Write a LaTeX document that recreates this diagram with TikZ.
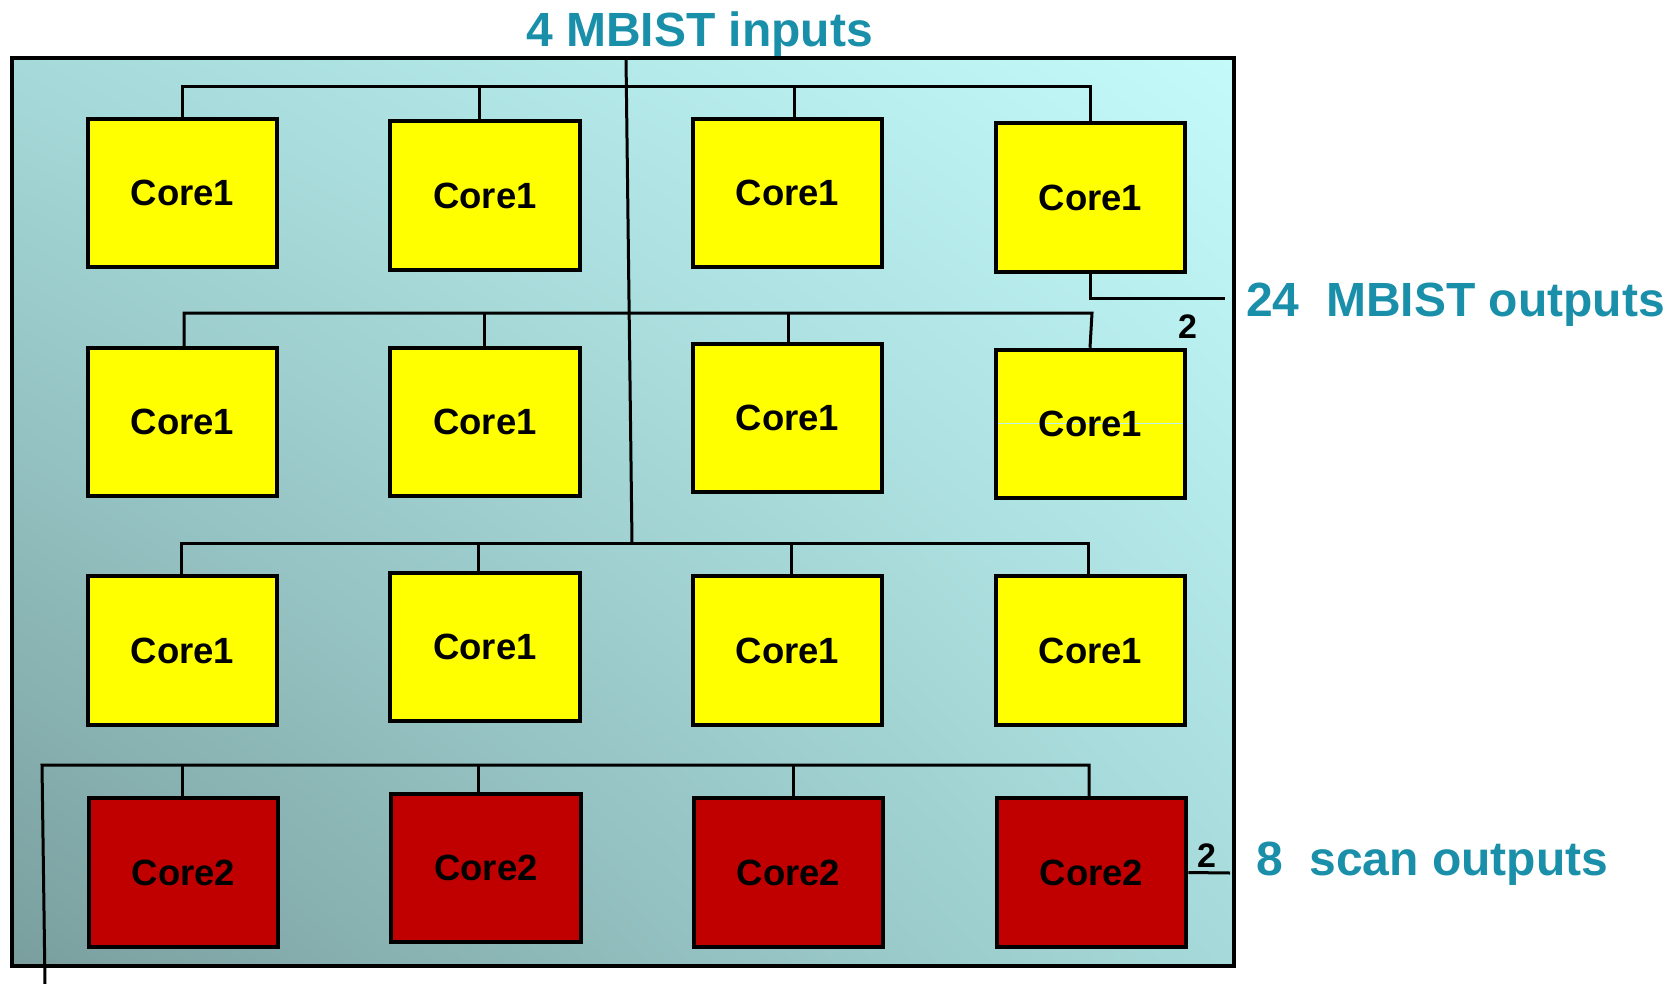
\documentclass[tikz,border=0pt]{standalone}
\usepackage{fontspec}
\setmainfont{Liberation Sans}
\usetikzlibrary{calc,shadings}

\definecolor{coreyellow}{HTML}{FFFF00}
\definecolor{corered}{HTML}{C00000}
\definecolor{labelteal}{HTML}{1A8FAA}
\definecolor{chipTL}{HTML}{A6DADA}
\definecolor{chipTR}{HTML}{C4FAFA}
\definecolor{chipBL}{HTML}{7A9E9E}
\definecolor{chipBR}{HTML}{A6DADA}
\definecolor{streak}{HTML}{B8F2F2}

\tikzset{
  corebox/.style={draw=black, line width=4pt, minimum width=189.5pt, minimum height=148.5pt,
    inner sep=0pt, font=\fontsize{36.5}{40}\selectfont\bfseries},
  cone/.style={corebox, fill=coreyellow},
  ctwo/.style={corebox, fill=corered},
  wire/.style={draw=black, line width=3pt},
  portlabel/.style={text=labelteal, inner sep=0pt, anchor=base west,
    font=\fontsize{48}{52}\selectfont\bfseries},
  widthnum/.style={inner sep=0pt, anchor=base west, font=\fontsize{34}{38}\selectfont\bfseries},
}

\begin{document}
\begin{tikzpicture}[x=1pt, y=-1pt]
\useasboundingbox (0,0) rectangle (1677,984);

% chip outline with diagonal shading
\path[shade, upper left=chipTL, upper right=chipTR, lower left=chipBL, lower right=chipBR]
  (12,58) rectangle (1234,966);
\draw[line width=3.5pt] (12,58) rectangle (1234,966);

% cores
\node[cone] (c11) at (182.5,193) {Core1};
\node[cone] (c12) at (485,195.5) {Core1};
\node[cone] (c13) at (787.5,193) {Core1};
\node[cone] (c14) at (1090.5,197.5) {Core1};

\node[cone] (c21) at (182.5,422) {Core1};
\node[cone] (c22) at (485,422) {Core1};
\node[cone] (c23) at (787.5,418) {Core1};
\node[cone, path picture={\draw[streak, line width=1pt]
    ([yshift=1pt]path picture bounding box.west) -- ([yshift=1pt]path picture bounding box.east);}]
  (c24) at (1090.5,424) {Core1};

\node[cone] (c31) at (182.5,650.5) {Core1};
\node[cone] (c32) at (485,647) {Core1};
\node[cone] (c33) at (787.5,650.5) {Core1};
\node[cone] (c34) at (1090.5,650.5) {Core1};

\node[ctwo] (c41) at (183.5,872.5) {Core2};
\node[ctwo] (c42) at (486,868) {Core2};
\node[ctwo] (c43) at (788.5,872.5) {Core2};
\node[ctwo] (c44) at (1091.5,872.5) {Core2};

% MBIST input distribution buses
\coordinate (mbistin) at (626,58);
\coordinate (trunkend) at (632,543);
\coordinate (busA) at (0,87);
\coordinate (busB) at (0,313);
\coordinate (busC) at (0,543);
\coordinate (busD) at (0,765);

\draw[wire] (mbistin) -- (trunkend);

\draw[wire] ([xshift=-0.5pt]c11.north) -- ([xshift=-0.5pt]c11.north |- busA)
  -- ([xshift=-0.5pt]c14.north |- busA) -- ([xshift=-0.5pt]c14.north);
\draw[wire] ([xshift=-6pt]c12.north) -- ([xshift=-6pt]c12.north |- busA);
\draw[wire] ([xshift=6.5pt]c13.north) -- ([xshift=6.5pt]c13.north |- busA);

\draw[wire] ([xshift=1.5pt]c21.north) -- ([xshift=1.5pt]c21.north |- busB)
  -- ([xshift=1.5pt]c24.north |- busB) -- ([xshift=-0.5pt]c24.north);
\draw[wire] ([xshift=-1pt]c22.north) -- ([xshift=-1pt]c22.north |- busB);
\draw[wire] ([xshift=0.5pt]c23.north) -- ([xshift=0.5pt]c23.north |- busB);

\draw[wire] ([xshift=-1.5pt]c31.north) -- ([xshift=-1.5pt]c31.north |- busC)
  -- ([xshift=-2.5pt]c34.north |- busC) -- ([xshift=-2.5pt]c34.north);
\draw[wire] ([xshift=-7pt]c32.north) -- ([xshift=-7pt]c32.north |- busC);
\draw[wire] ([xshift=3.5pt]c33.north) -- ([xshift=3.5pt]c33.north |- busC);

% scan input bus for Core2
\coordinate (scanin) at (45,984);
\coordinate (scancorner) at (42,765);
\draw[wire] (scanin) -- (scancorner) -- ([xshift=-2.5pt]c44.north |- busD) -- ([xshift=-2.5pt]c44.north);
\draw[wire] ([xshift=-1.5pt]c41.north) -- ([xshift=-1.5pt]c41.north |- busD);
\draw[wire] ([xshift=-8pt]c42.north) -- ([xshift=-8pt]c42.north |- busD);
\draw[wire] ([xshift=4.5pt]c43.north) -- ([xshift=4.5pt]c43.north |- busD);

% outputs
\coordinate (mbistout) at (1225,298);
\coordinate (scanout) at (1230,873);
\draw[wire] (c14.south) -- (c14.south |- mbistout) -- (mbistout);
\draw[wire] (c44.east) -- (scanout);

% labels
\node[portlabel] (lin) at (526,47) {4 MBIST inputs};
\node[portlabel] (lout) at (1246,316) {24~~MBIST outputs};
\node[portlabel] (lscan) at (1256,875) {8~~scan outputs};
\node[widthnum] (wout) at (1178,338) {2};
\node[widthnum] (wscan) at (1197,867) {2};
\end{tikzpicture}
\end{document}
